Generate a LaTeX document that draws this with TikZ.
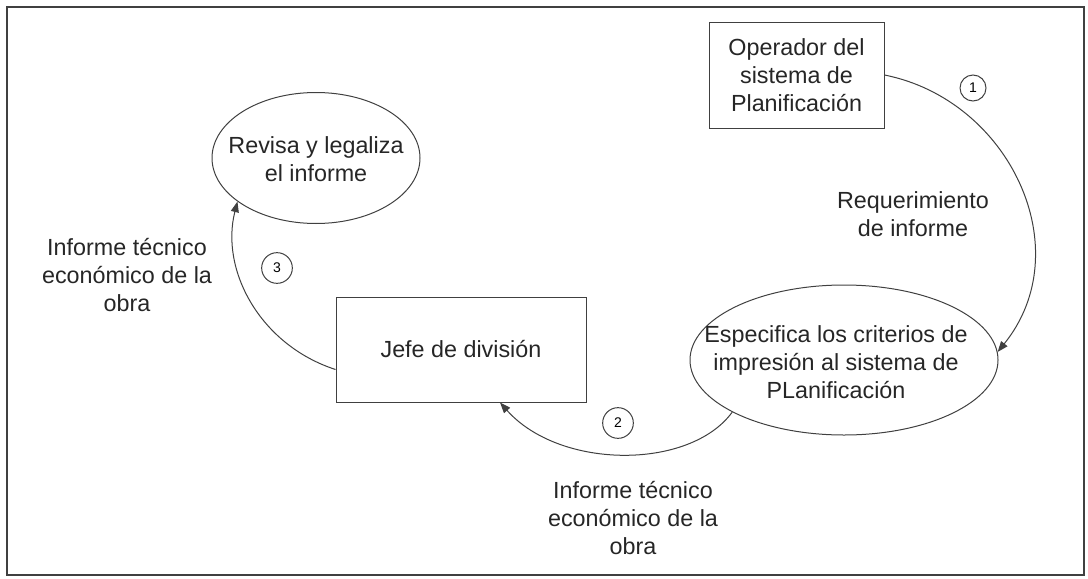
\documentclass[tikz,border=0pt]{standalone}
\usepackage{fontspec}
\setmainfont{Liberation Sans}
\usetikzlibrary{shapes.geometric,arrows.meta,calc}
\begin{document}
\begin{tikzpicture}[x=0.75pt,y=-0.75pt,
  ink/.style={draw=black!75, line width=0.75pt},
  txt/.style={font=\fontsize{17.5}{21}\selectfont, align=center, text=black!85, inner sep=0pt},
  boxnode/.style={ink, rectangle, inner sep=0pt},
  ellnode/.style={ink, ellipse, inner sep=0pt},
  num/.style={ink, circle, inner sep=0pt, minimum size=23pt, font=\fontsize{10.5}{12}\selectfont},
  flow/.style={ink, -{Triangle[length=8pt,width=6pt]}},
]
\useasboundingbox (0,0) rectangle (1088,578);
\draw[draw=black!75, line width=1.3pt] (7,7) rectangle (1084,575);

\node[boxnode, txt, minimum width=131.25pt, minimum height=79.5pt] (op) at (796.5,75) {Operador del\\sistema de\\Planificación};
\node[boxnode, txt, minimum width=187.5pt, minimum height=78.75pt] (jefe) at (461,349.5) {Jefe de división};
\node[ellnode, minimum width=156pt, minimum height=98.25pt] (rev) at (316,158) {};
\node[txt] (revtxt) at (316,159) {Revisa y legaliza\\el informe};
\node[ellnode, minimum width=231pt, minimum height=112.5pt] (esp) at (844,360) {};
\node[txt] (esptxt) at (836,362) {Especifica los criterios de\\impresión al sistema de\\PLanificación};

\node[txt] (l1) at (913,214) {Requerimiento\\de informe};
\node[txt] (l2) at (633,518) {Informe técnico\\económico de la\\obra};
\node[txt] (l3) at (127,275) {Informe técnico\\económico de la\\obra};

\node[num, minimum size=19.5pt] (n1) at (973,88) {1};
\node[num] (n2) at (618,423) {2};
\node[num] (n3) at (277,268) {3};

\draw[flow] (op.east) .. controls (1010,100) and (1080,250) .. (esp.3);
\draw[flow] (esp.205) .. controls (690,470) and (560,470) .. ($(jefe.south)+(39,0)$);
\draw[flow] ($(jefe.west)+(0,20)$) .. controls (260,345) and (220,270) .. (rev.209);
\end{tikzpicture}
\end{document}
